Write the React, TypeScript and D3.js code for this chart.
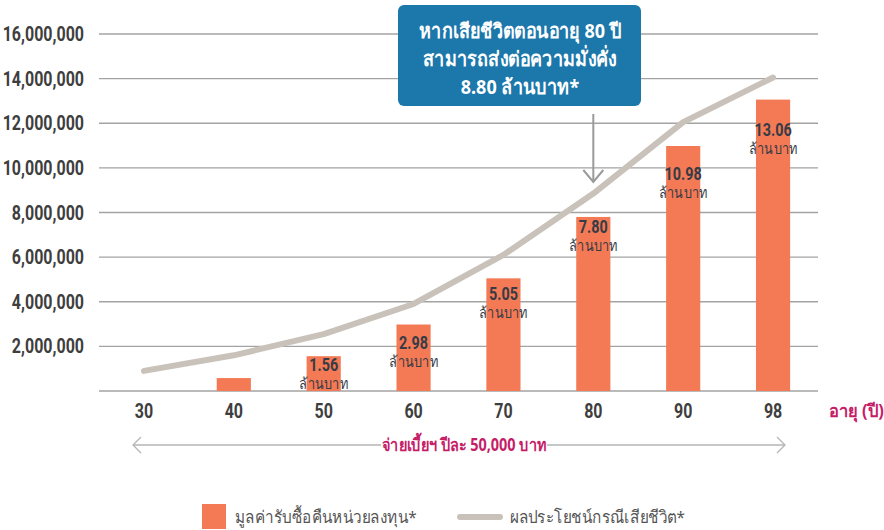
import React from "react";
import * as d3 from "d3";

const ages = ["30", "40", "50", "60", "70", "80", "90", "98"];
const surrenderValues = [null, 580000, 1560000, 2980000, 5050000, 7800000, 10980000, 13060000];
const surrenderLabels = ["", "", "1.56", "2.98", "5.05", "7.80", "10.98", "13.06"];
const deathBenefit = [900000, 1600000, 2550000, 3900000, 6100000, 8850000, 12050000, 14050000];
const yTicks = [2000000, 4000000, 6000000, 8000000, 10000000, 12000000, 14000000, 16000000];
const calloutLines = ["หากเสียชีวิตตอนอายุ 80 ปี", "สามารถส่งต่อความมั่งคั่ง", "8.80 ล้านบาท*"];
const unitLabel = "ล้านบาท";
const xAxisTitle = "อายุ (ปี)";
const premiumNote = "จ่ายเบี้ยฯ ปีละ 50,000 บาท";
const legendBar = "มูลค่ารับซื้อคืนหน่วยลงทุน*";
const legendLine = "ผลประโยชน์กรณีเสียชีวิต*";
// label baseline offsets (px below bar top) — presentation only
const labelDy = [0, 0, 15, 24, 22, 16, 34, 36];

const W = 884, H = 530;
const ROBOTO = "Roboto, 'Noto Sans', sans-serif";
const SANS = "'Noto Sans', 'DejaVu Sans', sans-serif";

type CTProps = {
  x: number; y: number; sx?: number; anchor?: string; size: number; weight?: number;
  fill: string; family?: string; children: React.ReactNode; dy?: string;
};
function CText({ x, y, sx = 0.8, anchor = "start", size, weight = 400, fill, family = ROBOTO, children, dy }: CTProps) {
  return (
    <g transform={`translate(${x},${y}) scale(${sx},1)`}>
      <text x={0} y={0} dy={dy} textAnchor={anchor} fontFamily={family} fontSize={size} fontWeight={weight} fill={fill}>
        {children}
      </text>
    </g>
  );
}

export default function App() {
  const x = d3.scaleBand<string>().domain(ages).range([99, 818]).paddingInner(0.62).paddingOuter(0.31);
  const y = d3.scaleLinear().domain([0, 16000000]).range([391, 34]);
  const cx = (a: string) => (x(a) as number) + x.bandwidth() / 2;
  const line = d3.line<number>().x((_, i) => cx(ages[i])).y((d) => y(d));
  const fmt = d3.format(",");
  const calloutX = cx("80");
  const magenta = "#c51d67";
  const arrowY = 445;

  return (
    <svg width={W} height={H} style={{ position: "absolute", left: 0, top: 0, display: "block", background: "#fff" }}>
      {/* grid */}
      {yTicks.map((t) => (
        <line key={t} x1={99} x2={818} y1={y(t)} y2={y(t)} stroke="#a3a3a3" strokeWidth={1.3} />
      ))}
      <line x1={99} x2={818} y1={y(0)} y2={y(0)} stroke="#a3a3a3" strokeWidth={1.5} />
      {yTicks.map((t) => (
        <CText key={"l" + t} x={84} y={y(t)} dy="0.35em" anchor="end" sx={0.8} size={20} weight={700} fill="#3e3e3e">
          {fmt(t)}
        </CText>
      ))}
      {/* bars */}
      {surrenderValues.map((v, i) =>
        v == null ? null : (
          <rect key={"b" + i} x={x(ages[i])} y={y(v)} width={x.bandwidth()} height={y(0) - y(v)} fill="#f47a55" />
        )
      )}
      {/* line */}
      <path d={line(deathBenefit) || ""} fill="none" stroke="#c9c2ba" strokeWidth={6} strokeLinecap="round" strokeLinejoin="round" />
      {/* bar labels */}
      {surrenderValues.map((v, i) =>
        v == null || !surrenderLabels[i] ? null : (
          <g key={"t" + i}>
            <CText x={cx(ages[i])} y={y(v) + labelDy[i]} anchor="middle" sx={0.8} size={18} weight={700} fill="#363b45">
              {surrenderLabels[i]}
            </CText>
            <CText x={cx(ages[i])} y={y(v) + labelDy[i] + 18} anchor="middle" sx={0.85} size={15} weight={500} family={SANS} fill="#363b45">
              {unitLabel}
            </CText>
          </g>
        )
      )}
      {/* x labels */}
      {ages.map((a) => (
        <CText key={"x" + a} x={cx(a)} y={411} dy="0.35em" anchor="middle" sx={0.8} size={20} weight={700} fill="#3e3e3e">
          {a}
        </CText>
      ))}
      <CText x={829} y={411} dy="0.35em" sx={0.92} size={18} weight={700} family={SANS} fill={magenta}>{xAxisTitle}</CText>
      {/* premium arrow */}
      <line x1={133} x2={381} y1={arrowY} y2={arrowY} stroke="#b5b5b5" strokeWidth={1.3} />
      <line x1={547} x2={785} y1={arrowY} y2={arrowY} stroke="#b5b5b5" strokeWidth={1.3} />
      <polyline points={`${141},${arrowY - 8} ${133},${arrowY} ${141},${arrowY + 8}`} fill="none" stroke="#b5b5b5" strokeWidth={1.3} />
      <polyline points={`${777},${arrowY - 8} ${785},${arrowY} ${777},${arrowY + 8}`} fill="none" stroke="#b5b5b5" strokeWidth={1.3} />
      <CText x={464} y={arrowY} dy="0.35em" anchor="middle" sx={0.85} size={17} weight={700} family={SANS} fill={magenta}>{premiumNote}</CText>
      {/* callout */}
      <rect x={398} y={5} width={243} height={101} rx={6} fill="#1c77aa" />
      {calloutLines.map((s, i) => (
        <CText key={"c" + i} x={520} y={31 + i * 28} dy="0.35em" anchor="middle" sx={0.9} size={20} weight={700} family={SANS} fill="#fff">
          {s}
        </CText>
      ))}
      <line x1={calloutX} x2={calloutX} y1={114} y2={182} stroke="#9a9a9a" strokeWidth={2} />
      <polyline points={`${calloutX - 10},${170} ${calloutX},${182} ${calloutX + 10},${170}`} fill="none" stroke="#9a9a9a" strokeWidth={2} />
      {/* legend */}
      <rect x={202} y={504} width={24} height={25} fill="#f47a55" />
      <CText x={235} y={517} dy="0.35em" sx={0.9} size={17} family={SANS} fill="#555">{legendBar}</CText>
      <line x1={460} x2={500} y1={517} y2={517} stroke="#c9c2ba" strokeWidth={6} strokeLinecap="round" />
      <CText x={510} y={517} dy="0.35em" sx={0.9} size={17} family={SANS} fill="#555">{legendLine}</CText>
    </svg>
  );
}
